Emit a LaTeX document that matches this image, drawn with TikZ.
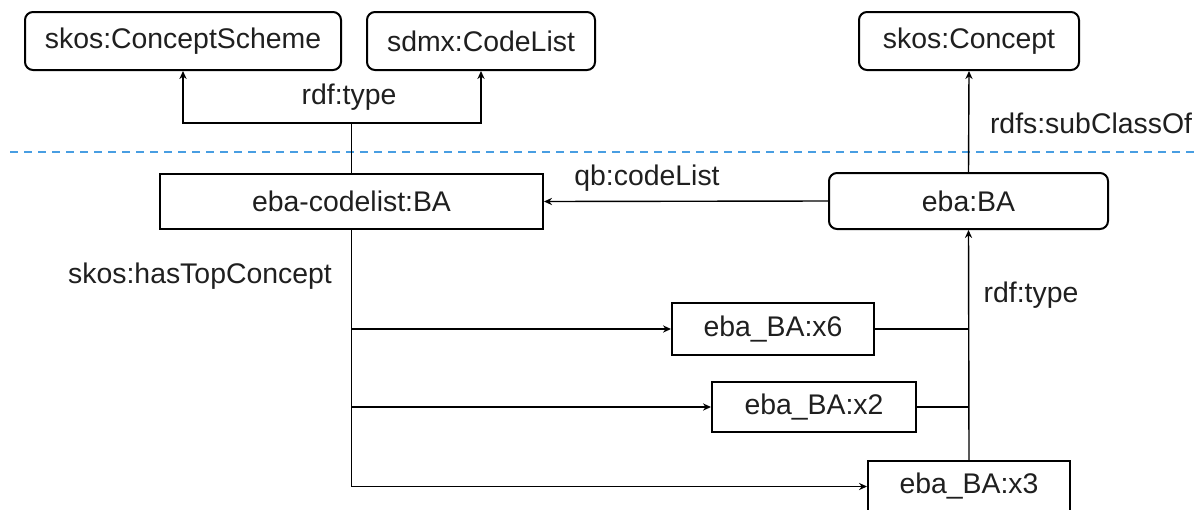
\documentclass[tikz,border=0pt]{standalone}
\usepackage{fontspec}
\setmainfont{Liberation Sans}
\usepackage{tikz}
\usetikzlibrary{arrows.meta,positioning}

\definecolor{sepblue}{RGB}{72,158,226}

\tikzset{
  rbox/.style={draw,line width=1pt,rounded corners=4pt,inner sep=0pt,minimum height=29pt},
  sbox/.style={draw,line width=1pt,inner sep=0pt},
  link/.style={line width=0.7pt},
  lbl/.style={inner sep=0pt}
}

\begin{document}
\begin{tikzpicture}[x=0.5pt,y=-0.5pt,>={Stealth[length=4pt,width=3.6pt]},
    font=\fontsize{14.2}{17}\selectfont,text=black!88]

    \useasboundingbox (0,0) rectangle (1198,509);

    % Klassen oben
    \node[rbox,minimum width=158pt] (scheme) at (183,41) {skos:ConceptScheme};
    \node[rbox,minimum width=114pt] (sdmxlist) at (481,41) {sdmx:CodeList};
    \node[rbox,minimum width=110pt] (concept) at (969,41) {skos:Concept};

    % Trennlinie
    \draw[sepblue,line width=0.8pt,dash pattern=on 4pt off 3pt] (10,152) -- (1198,152);

    % Codeliste und Dimension
    \node[sbox,minimum width=191.5pt,minimum height=27.5pt] (codelist) at (351.5,201.5) {eba-codelist:BA};
    \node[rbox,minimum width=139.5pt,minimum height=28pt] (ba) at (968.5,201) {eba:BA};

    % Codes
    \node[sbox,minimum width=101pt,minimum height=26pt] (xsix) at (773,329) {eba\_BA:x6};
    \node[sbox,minimum width=102pt,minimum height=25pt] (xtwo) at (814,407) {eba\_BA:x2};
    \node[sbox,minimum width=101pt,minimum height=25.5pt] (xthree) at (969,486.5) {eba\_BA:x3};

    % Beschriftungen
    \node[lbl] (typelbl) at (349,97) {rdf:type};
    \node[lbl] (qblbl) at (647,178) {qb:codeList};
    \node[lbl] (subcllbl) at (1091,123) {rdfs:subClassOf};
    \node[lbl] (toplbl) at (200,276) {skos:hasTopConcept};
    \node[lbl] (typelbl2) at (1031,295) {rdf:type};

    % rdf:type nach oben
    \coordinate (tj) at (351.5,123);
    \draw[link,->] (codelist.north) -- (tj) -| (scheme.south);
    \draw[link,->] (tj) -| (sdmxlist.south);

    \draw[link,->] (ba.north) -- (concept.south);
    \draw[link,->] (ba.west) -- (codelist.east);

    % skos:hasTopConcept
    \draw[link] (codelist.south) -- (codelist.south |- xthree.west);
    \draw[link,->] (codelist.south |- xsix.west) -- (xsix.west);
    \draw[link,->] (codelist.south |- xtwo.west) -- (xtwo.west);
    \draw[link,->] (codelist.south |- xthree.west) -- (xthree.west);

    % rdf:type der Codes
    \draw[link,->] (xthree.north) -- (ba.south);
    \draw[link] (xsix.east) -- (xsix.east -| xthree.north);
    \draw[link] (xtwo.east) -- (xtwo.east -| xthree.north);

\end{tikzpicture}
\end{document}
